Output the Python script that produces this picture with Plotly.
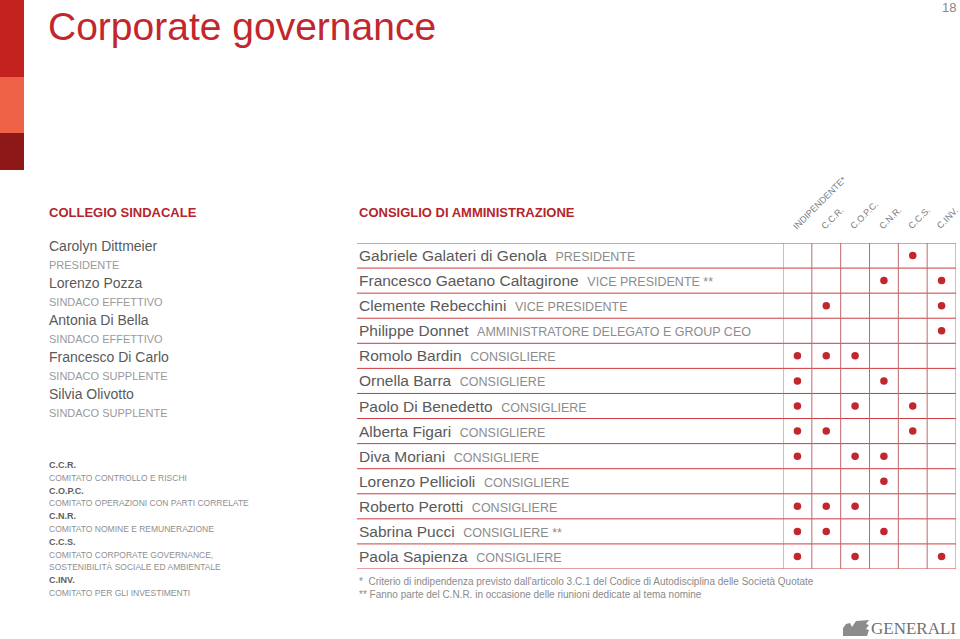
import plotly.graph_objects as go

# ---- data ----
auditor_names = ["Carolyn Dittmeier", "Lorenzo Pozza", "Antonia Di Bella",
                 "Francesco Di Carlo", "Silvia Olivotto"]
auditor_roles = ["PRESIDENTE", "SINDACO EFFETTIVO", "SINDACO EFFETTIVO",
                 "SINDACO SUPPLENTE", "SINDACO SUPPLENTE"]

committee_codes = ["C.C.R.", "C.O.P.C.", "C.N.R.", "C.C.S.", "C.INV."]
committee_descs = [["COMITATO CONTROLLO E RISCHI"],
                   ["COMITATO OPERAZIONI CON PARTI CORRELATE"],
                   ["COMITATO NOMINE E REMUNERAZIONE"],
                   ["COMITATO CORPORATE GOVERNANCE,", "SOSTENIBILITÀ SOCIALE ED AMBIENTALE"],
                   ["COMITATO PER GLI INVESTIMENTI"]]

board_names = ["Gabriele Galateri di Genola", "Francesco Gaetano Caltagirone",
               "Clemente Rebecchini", "Philippe Donnet", "Romolo Bardin",
               "Ornella Barra", "Paolo Di Benedetto", "Alberta Figari",
               "Diva Moriani", "Lorenzo Pellicioli", "Roberto Perotti",
               "Sabrina Pucci", "Paola Sapienza"]
board_roles = ["PRESIDENTE", "VICE PRESIDENTE **", "VICE PRESIDENTE",
               "AMMINISTRATORE DELEGATO E GROUP CEO", "CONSIGLIERE",
               "CONSIGLIERE", "CONSIGLIERE", "CONSIGLIERE", "CONSIGLIERE",
               "CONSIGLIERE", "CONSIGLIERE", "CONSIGLIERE **", "CONSIGLIERE"]

columns = ["INDIPENDENTE*", "C.C.R.", "C.O.P.C.", "C.N.R.", "C.C.S.", "C.INV."]

# 1 = member / independent
membership = [
    [0, 0, 0, 0, 1, 0],
    [0, 0, 0, 1, 0, 1],
    [0, 1, 0, 0, 0, 1],
    [0, 0, 0, 0, 0, 1],
    [1, 1, 1, 0, 0, 0],
    [1, 0, 0, 1, 0, 0],
    [1, 0, 1, 0, 1, 0],
    [1, 1, 0, 0, 1, 0],
    [1, 0, 1, 1, 0, 0],
    [0, 0, 0, 1, 0, 0],
    [1, 1, 1, 0, 0, 0],
    [1, 1, 0, 1, 0, 0],
    [1, 0, 1, 0, 0, 1],
]

footnotes = ["*  Criterio di indipendenza previsto dall'articolo 3.C.1 del Codice di Autodisciplina delle Società Quotate",
             "** Fanno parte del C.N.R. in occasione delle riunioni dedicate al tema nomine"]

# ---- layout helpers ----
W, H = 960, 639
RED = "#c1272d"
DARK = "#5a5a5a"
LIGHT = "#9a9a9a"
FONT = "Liberation Sans, Arial, sans-serif"


def px(x):
    return x / W


def py(y):
    return 1 - y / H


grid_left, grid_right = 783, 956
table_left = 357
table_top, table_bottom = 243, 569
n_rows, n_cols = len(board_names), len(columns)

dot_x, dot_y = [], []
for r, row in enumerate(membership):
    for c, v in enumerate(row):
        if v:
            dot_x.append(c)
            dot_y.append(r)

fig = go.Figure()
fig.add_trace(go.Scatter(
    x=dot_x, y=dot_y, mode="markers",
    marker=dict(size=7.5, color=RED, line=dict(width=0)),
    hoverinfo="skip", showlegend=False,
))

shapes = []
# side colour bars
for y0, y1, col in [(0, 77, "#c4221f"), (77, 133, "#ef6248"), (133, 170, "#8e1717")]:
    shapes.append(dict(type="rect", xref="paper", yref="paper",
                       x0=0, x1=px(24), y0=py(y1), y1=py(y0),
                       fillcolor=col, line=dict(width=0), layer="below"))
# horizontal rules
for r in range(n_rows + 1):
    shapes.append(dict(type="line", xref="paper", yref="y",
                       x0=px(table_left), x1=px(grid_right), y0=r - 0.5, y1=r - 0.5,
                       line=dict(color="#cc3b40", width=1)))
# vertical rules
for c in range(n_cols + 1):
    shapes.append(dict(type="line", xref="x", yref="y",
                       x0=c - 0.5, x1=c - 0.5, y0=-0.5, y1=n_rows - 0.5,
                       line=dict(color="#c06a6d", width=1)))

# rough winged-lion mark of the logo
lion = [(843, 636), (843, 628), (846, 624), (850, 623), (852, 627), (856, 621),
        (869, 620), (866, 624), (869, 625), (866, 629), (869, 630), (867, 636)]
path = "M " + " L ".join(f"{px(a):.5f},{py(b):.5f}" for a, b in lion) + " Z"
shapes.append(dict(type="path", xref="paper", yref="paper", path=path,
                   fillcolor="#8c8c8c", line=dict(width=0)))

ann = []


def text(x, y, s, size, color, family=FONT, xanchor="left", weight=None, **kw):
    f = dict(size=size, color=color, family=family)
    if weight:
        f["weight"] = weight
    ann.append(dict(x=px(x), y=py(y), xref="paper", yref="paper", text=s,
                    showarrow=False, xanchor=xanchor, yanchor="middle",
                    font=f, **kw))


text(46, 27, "Corporate governance", 39, RED, weight=300)
text(958, 8, "18", 13, "#888888", xanchor="right")

text(47, 212, "<b>COLLEGIO SINDACALE</b>", 13, "#b5252b")
text(357, 212, "<b>CONSIGLIO DI AMMINISTRAZIONE</b>", 13, "#b5252b")

for i, (n, r) in enumerate(zip(auditor_names, auditor_roles)):
    text(47, 246 + 37 * i, n, 14, DARK)
    text(47, 265 + 37 * i, r, 11, LIGHT)

lines = []
for code, desc in zip(committee_codes, committee_descs):
    lines.append(("<b>" + code + "</b>", "#5e5e5e", 9))
    for d in desc:
        lines.append((d, "#8f8f8f", 8.5))
for k, (s, col, fs) in enumerate(lines):
    text(47, 465 + 12.8 * k, s, fs, col)

for r, (n, role) in enumerate(zip(board_names, board_roles)):
    ann.append(dict(x=px(357), y=r, xref="paper", yref="y",
                    text=n + "  <span style='font-size:12.5px;color:#8c8c8c'>" + role + "</span>",
                    showarrow=False, xanchor="left", yanchor="middle",
                    font=dict(size=15.5, color=DARK, family=FONT)))

for c, name in enumerate(columns):
    ann.append(dict(x=c - 0.5, y=py(234), xref="x", yref="paper",
                    text=name, textangle=-45, showarrow=False,
                    xanchor="left", yanchor="bottom", xshift=5,
                    font=dict(size=9, color="#7a7a7a", family=FONT)))

for k, s in enumerate(footnotes):
    text(357, 581 + 13 * k, s, 10, "#8a8a8a")

text(958, 628, "GENERALI", 17, "#707070", family="Liberation Serif, serif", xanchor="right")

fig.update_layout(
    width=W, height=H,
    margin=dict(l=0, r=0, t=0, b=0),
    paper_bgcolor="white", plot_bgcolor="white",
    shapes=shapes, annotations=ann,
    showlegend=False,
    xaxis=dict(domain=[px(grid_left), px(grid_right)], range=[-0.5, n_cols - 0.5],
               showgrid=False, zeroline=False, showticklabels=False, fixedrange=True),
    yaxis=dict(domain=[py(table_bottom), py(table_top)], range=[n_rows - 0.5, -0.5],
               showgrid=False, zeroline=False, showticklabels=False, fixedrange=True),
)

fig.write_html("out.html", config={"displayModeBar": False},
               post_script="document.body.style.margin='0';document.body.style.overflow='hidden';")
